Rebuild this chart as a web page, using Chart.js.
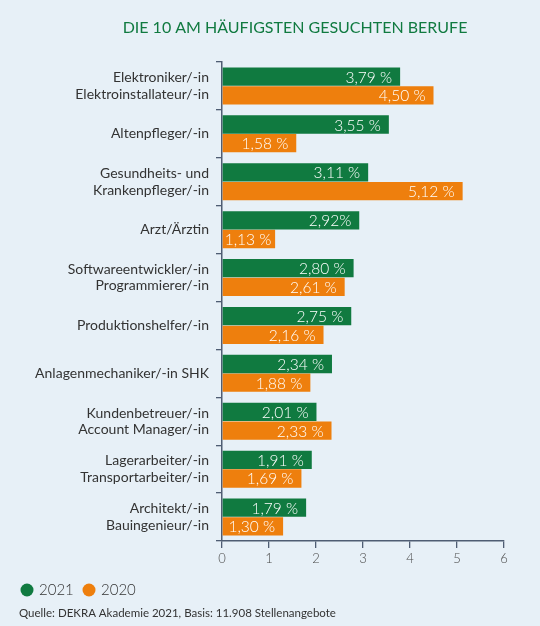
<!DOCTYPE html>
<html>
<head>
<meta charset="utf-8">
<script src="https://cdn.jsdelivr.net/npm/chart.js@4"></script>
<style>
  html, body { margin: 0; padding: 0; background: #e7f0f7; }
  #wrap { width: 540px; height: 626px; position: relative; }
</style>
</head>
<body>
<div id="wrap"><canvas id="chart" width="540" height="626"></canvas></div>
<script>
// Berufe (mehrzeilige Beschriftungen)
const categories = [
    ['Elektroniker/-in', 'Elektroinstallateur/-in'],
    'Altenpfleger/-in',
    ['Gesundheits- und', 'Krankenpfleger/-in'],
    'Arzt/Ärztin',
    ['Softwareentwickler/-in', 'Programmierer/-in'],
    'Produktionshelfer/-in',
    'Anlagenmechaniker/-in SHK',
    ['Kundenbetreuer/-in', 'Account Manager/-in'],
    ['Lagerarbeiter/-in', 'Transportarbeiter/-in'],
    ['Architekt/-in', 'Bauingenieur/-in']
];
const values2021 = [3.79, 3.55, 3.11, 2.92, 2.80, 2.75, 2.34, 2.01, 1.91, 1.79];
const values2020 = [4.50, 1.58, 5.12, 1.13, 2.61, 2.16, 1.88, 2.33, 1.69, 1.30];
// "2,92%" steht im Original ohne Leerzeichen
const labels2021 = ['3,79 %', '3,55 %', '3,11 %', '2,92%', '2,80 %', '2,75 %', '2,34 %', '2,01 %', '1,91 %', '1,79 %'];
const labels2020 = ['4,50 %', '1,58 %', '5,12 %', '1,13 %', '2,61 %', '2,16 %', '1,88 %', '2,33 %', '1,69 %', '1,30 %'];
const xTicks = [0, 1, 2, 3, 4, 5, 6];

const GREEN = '#107a40';
const ORANGE = '#ee7f0d';
const AXIS = '#4f5d73';
const FONT = 'Lato, "Noto Sans", sans-serif';

// Werte in die Balken schreiben
const barLabels = {
    id: 'barLabels',
    afterDatasetsDraw(chart) {
        const ctx = chart.ctx;
        ctx.save();
        ctx.font = '300 15.5px ' + FONT;
        ctx.fillStyle = '#ffffff';
        ctx.textBaseline = 'middle';
        ctx.textAlign = 'left';
        chart.data.datasets.forEach((ds, di) => {
            const meta = chart.getDatasetMeta(di);
            meta.data.forEach((bar, i) => {
                const txt = ds.valueLabels[i];
                const w = ctx.measureText(txt).width;
                let x = bar.x - 8 - w;
                if (x < bar.base + 2) x = bar.base + 2;
                ctx.fillText(txt, x, bar.y + 1);
            });
        });
        ctx.restore();
    }
};

// Titel, Legende und Quelle
const extras = {
    id: 'extras',
    afterDraw(chart) {
        const ctx = chart.ctx;
        ctx.save();
        ctx.fillStyle = GREEN;
        ctx.font = '16px ' + FONT;
        ctx.textAlign = 'center';
        ctx.textBaseline = 'middle';
        ctx.fillText('DIE 10 AM HÄUFIGSTEN GESUCHTEN BERUFE', 295, 28);

        let x = 27;
        ctx.font = '300 15px ' + FONT;
        ctx.textAlign = 'left';
        chart.data.datasets.forEach(ds => {
            ctx.fillStyle = ds.backgroundColor;
            ctx.beginPath();
            ctx.arc(x, 590, 6.5, 0, Math.PI * 2);
            ctx.fill();
            ctx.fillStyle = '#333333';
            ctx.fillText(ds.label, x + 12, 590);
            x += 62;
        });

        ctx.font = '11.5px ' + FONT;
        ctx.fillStyle = '#333333';
        ctx.fillText('Quelle: DEKRA Akademie 2021, Basis: 11.908 Stellenangebote', 19, 613);
        ctx.restore();
    }
};

new Chart(document.getElementById('chart'), {
    type: 'bar',
    data: {
        labels: categories,
        datasets: [
            { label: '2021', data: values2021, valueLabels: labels2021, backgroundColor: GREEN },
            { label: '2020', data: values2020, valueLabels: labels2020, backgroundColor: ORANGE }
        ]
    },
    options: {
        indexAxis: 'y',
        responsive: false,
        animation: false,
        devicePixelRatio: 1,
        layout: { padding: { top: 62, right: 36, bottom: 55, left: 0 } },
        datasets: { bar: { categoryPercentage: 0.78, barPercentage: 0.98 } },
        plugins: {
            legend: { display: false },
            title: { display: false },
            tooltip: { enabled: false }
        },
        scales: {
            x: {
                min: 0,
                max: 6,
                afterBuildTicks(scale) { scale.ticks = xTicks.map(v => ({ value: v })); },
                afterFit(scale) { scale.height = 30; },
                grid: { drawOnChartArea: false, tickLength: 7, color: AXIS, lineWidth: 1.3 },
                border: { color: AXIS, width: 1.5 },
                ticks: { color: '#4a4a4a', font: { family: FONT, size: 13, weight: 300 }, padding: 3 }
            },
            y: {
                afterFit(scale) { scale.width = 222; },
                grid: { drawOnChartArea: false, offset: true, tickLength: 6, color: AXIS, lineWidth: 1.3 },
                border: { color: AXIS, width: 1.5 },
                ticks: { color: '#333', font: { family: FONT, size: 14, lineHeight: 1.18 }, padding: 7 }
            }
        }
    },
    plugins: [barLabels, extras]
});
</script>
</body>
</html>
